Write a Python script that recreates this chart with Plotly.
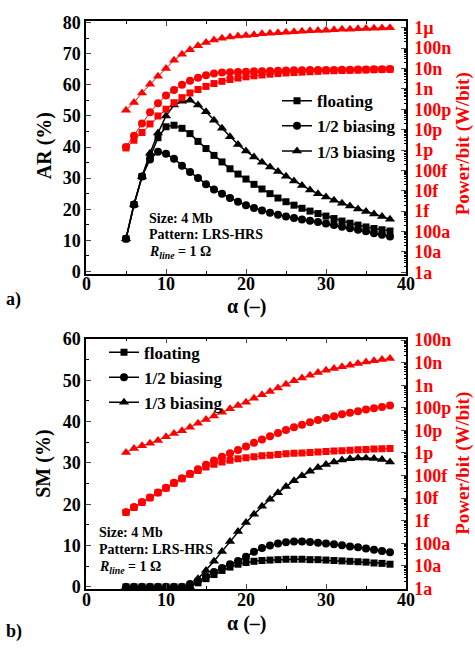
import plotly.graph_objects as go

alpha = list(range(5, 39))

# (a) AR (%) — left axis
ar_floating = [10.5, 21.5, 30.5, 37, 43, 46.5, 47, 46, 44.3, 41.8, 39.5, 37.3, 35.2, 33.0, 31.3, 29.7,
               28.0, 26.5, 25.0, 23.6, 22.4, 21.3, 20.3, 19.4, 18.6, 17.8, 17.0, 16.2, 15.5, 14.9,
               14.3, 13.8, 13.4, 13.0]
ar_half = [10.5, 21.5, 30.5, 36, 38.5, 37.8, 36.2, 34, 32, 30, 28, 26.3, 25, 23.6, 22.4, 21.3,
           20.4, 19.6, 18.9, 18.2, 17.7, 17.2, 16.7, 16.3, 15.9, 15.4, 14.9, 14.4, 13.9, 13.4,
           12.9, 12.3, 11.8, 11.2]
ar_third = [10.5, 21.5, 30.5, 38, 44.5, 50, 53.5, 54.7, 55, 53.5, 51.3, 48.6, 46, 43.3, 40.8, 38.7,
            36.8, 35.1, 33.6, 32.1, 30.6, 29.1, 27.6, 26.2, 25, 23.9, 22.9, 21.9, 21, 20.1,
            19.3, 18.5, 17.7, 16.8]

# (a) Power/bit, log10(W/bit) — right axis
pa_floating = [-11.9, -11.52, -11.14, -10.72, -10.33, -10.0, -9.68, -9.43, -9.2, -9.03, -8.88, -8.74,
               -8.63, -8.54, -8.47, -8.41, -8.36, -8.32, -8.28, -8.25, -8.22, -8.2, -8.18, -8.16,
               -8.14, -8.12, -8.11, -8.1, -8.09, -8.08, -8.07, -8.06, -8.05, -8.04]
pa_half = [-11.85, -11.3, -10.7, -10.15, -9.7, -9.33, -9.05, -8.8, -8.6, -8.45, -8.33, -8.25, -8.2,
           -8.18, -8.17, -8.16, -8.14, -8.13, -8.12, -8.11, -8.1, -8.09, -8.09, -8.08, -8.08,
           -8.07, -8.07, -8.06, -8.06, -8.05, -8.05, -8.04, -8.04, -8.03]
pa_third = [-10.05, -9.67, -9.2, -8.77, -8.38, -8.0, -7.6, -7.3, -7.08, -6.88, -6.72, -6.6, -6.52,
            -6.45, -6.41, -6.38, -6.34, -6.3, -6.27, -6.25, -6.22, -6.2, -6.17, -6.15, -6.13,
            -6.12, -6.1, -6.08, -6.07, -6.05, -6.04, -6.02, -6.01, -6.0]

# (b) SM (%) — left axis
sm_floating = [0, 0, 0, 0, 0, 0, 0, 0, 0.3, 1.0, 2.0, 3.0, 4.0, 4.8, 5.5, 5.9, 6.2, 6.4, 6.5, 6.6,
               6.7, 6.7, 6.7, 6.6, 6.6, 6.5, 6.4, 6.3, 6.2, 6.1, 6.0, 5.8, 5.7, 5.5]
sm_half = [0, 0, 0, 0, 0, 0, 0, 0, 0.7, 1.5, 2.5, 3.6, 4.6, 5.5, 6.3, 7.3, 8.5, 9.4, 10.0, 10.5,
           10.8, 11.0, 11.0, 10.9, 10.7, 10.5, 10.3, 10.1, 9.8, 9.6, 9.3, 9.0, 8.7, 8.4]
sm_third = [0, 0, 0, 0, 0, 0, 0, 0, 0, 2.0, 4.0, 6.2, 8.6, 11.0, 13.4, 15.6, 17.6, 19.5, 21.2, 22.8,
            24.3, 25.7, 26.9, 28.0, 28.9, 29.6, 30.2, 30.7, 31.0, 31.2, 31.2, 31.1, 30.8, 30.2]

# (b) Power/bit, log10(W/bit) — right axis
pb_floating = [-14.64, -14.42, -14.2, -13.99, -13.77, -13.56, -13.34, -13.14, -12.95, -12.78, -12.62,
               -12.5, -12.4, -12.32, -12.26, -12.21, -12.17, -12.13, -12.1, -12.07, -12.04, -12.02,
               -12.0, -11.98, -11.96, -11.94, -11.92, -11.9, -11.88, -11.86, -11.85, -11.83, -11.82, -11.8]
pb_half = [-14.62, -14.4, -14.18, -13.97, -13.75, -13.54, -13.32, -13.12, -12.92, -12.72, -12.52,
           -12.34, -12.17, -12.02, -11.87, -11.72, -11.55, -11.4, -11.26, -11.12, -10.98, -10.86,
           -10.75, -10.64, -10.54, -10.45, -10.37, -10.29, -10.22, -10.15, -10.08, -10.02, -9.96, -9.9]
pb_third = [-11.98, -11.8, -11.68, -11.57, -11.45, -11.28, -11.14, -11.02, -10.86, -10.68, -10.52,
            -10.36, -10.2, -10.04, -9.9, -9.75, -9.58, -9.42, -9.28, -9.12, -8.96, -8.8, -8.68,
            -8.56, -8.44, -8.34, -8.26, -8.18, -8.11, -8.04, -7.97, -7.92, -7.86, -7.82]

series_names = ["floating", "1/2 biasing", "1/3 biasing"]
symbols = ["square", "circle", "triangle-up"]
msize = [7, 8, 9]

x_ticks = [0, 10, 20, 30, 40]
power_labels_a = ["1a", "10a", "100a", "1f", "10f", "100f", "1p", "10p", "100p", "1n", "10n", "100n", "1µ"]
power_labels_b = ["1a", "10a", "100a", "1f", "10f", "100f", "1p", "10p", "100p", "1n", "10n", "100n"]

FONT = "Liberation Serif"
RED = "#ff0000"

fig = go.Figure()

def add_panel(xa, yl, yr, left_sets, right_sets, legend_name):
    for name, sym, ms, vals in zip(series_names, symbols, msize, left_sets):
        fig.add_trace(go.Scatter(
            x=alpha, y=vals, name=name, mode="lines+markers",
            line=dict(color="black", width=1.5),
            marker=dict(symbol=sym, size=ms, color="black"),
            xaxis=xa, yaxis=yl, legend=legend_name, showlegend=True))
    for name, sym, ms, vals in zip(series_names, symbols, msize, right_sets):
        fig.add_trace(go.Scatter(
            x=alpha, y=[10 ** v for v in vals], name=name, mode="lines+markers",
            line=dict(color=RED, width=1),
            marker=dict(symbol=sym, size=ms, color=RED),
            xaxis=xa, yaxis=yr, showlegend=False))

add_panel("x", "y", "y2", [ar_floating, ar_half, ar_third], [pa_floating, pa_half, pa_third], "legend")
add_panel("x2", "y3", "y4", [sm_floating, sm_half, sm_third], [pb_floating, pb_half, pb_third], "legend2")

tickfont = dict(family=FONT, size=18, color="black", weight="bold")
redtick = dict(family=FONT, size=18, color=RED, weight="bold")

def xaxis_cfg(anchor):
    return dict(range=[0, 40], tickvals=x_ticks, ticks="inside", ticklen=5,
                tickwidth=1.2, mirror="ticks", showline=True, linecolor="black", linewidth=1.5,
                showgrid=False, zeroline=False, showticklabels=False, anchor=anchor,
                minor=dict(tickvals=[5, 15, 25, 35], ticks="inside", ticklen=3, tickcolor="black"))

def yleft_cfg(rng, vals, dom, anchor):
    return dict(range=rng, tickvals=vals, ticks="inside", ticklen=5, tickwidth=1.2,
                showline=True, linecolor="black", linewidth=1.5, showgrid=False, zeroline=False,
                tickfont=tickfont, domain=dom, anchor=anchor,
                minor=dict(tickvals=[v + (vals[1] - vals[0]) / 2 for v in vals[:-1]],
                           ticks="inside", ticklen=3, tickcolor="black"))

def yright_cfg(rng, labels, overlay, anchor):
    exps = list(range(-18, -18 + len(labels)))
    minors = []
    for e in exps[:-1]:
        for k in range(2, 10):
            minors.append(k * 10 ** e)
    return dict(type="log", range=rng, tickvals=[10 ** e for e in exps], ticktext=labels,
                ticks="inside", ticklen=5, tickwidth=1.2, showline=True, linecolor="black",
                linewidth=1.5, showgrid=False, zeroline=False, tickfont=redtick,
                overlaying=overlay, side="right", anchor=anchor, ticklabelstandoff=3,
                minor=dict(tickvals=minors, ticks="inside", ticklen=2.5, tickcolor="black"))

top_dom = [0.5547, 1.0]
bot_dom = [0.0, 0.441]

def px2x(px):
    return (px - 86) / 320

def py2y(py):
    return (589 - py) / 576

ann = []
def text(x, y, s, size=14, color="black", angle=0, xanchor="center"):
    ann.append(dict(xref="paper", yref="paper", x=px2x(x), y=py2y(y), text=s, showarrow=False,
                    textangle=angle, xanchor=xanchor, yanchor="middle",
                    font=dict(family=FONT, size=size, color=color, weight="bold")))

# x tick labels, placed at the tick values of each x axis
for xref, ypix in [("x", 280), ("x2", 600)]:
    for v in x_ticks:
        ann.append(dict(xref=xref, yref="paper", x=v, y=py2y(ypix), text=str(v), showarrow=False,
                        xanchor="center", yanchor="middle", font=tickfont))

text(44, 140, "AR (%)", size=20, angle=-90)
text(44, 462, "SM (%)", size=20, angle=-90)
text(463, 138, "Power/bit (W/bit)", size=19, color=RED, angle=-90)
text(463, 462, "Power/bit (W/bit)", size=19, color=RED, angle=-90)
text(246, 303, "α (–)", size=20)
text(246, 624, "α (–)", size=20)
text(4, 295, "a)", size=18, xanchor="left")
text(4, 632, "b)", size=18, xanchor="left")
for x0, y0 in [(147, 213), (97, 532)]:
    text(x0, y0, "Size: 4 Mb", size=14, xanchor="left")
    text(x0, y0 + 17, "Pattern: LRS-HRS", size=14, xanchor="left")
    text(x0, y0 + 35, "<i>R</i><sub><i>line</i></sub> = 1 Ω", size=14, xanchor="left")

legfont = dict(family=FONT, size=17, color="black", weight="bold")

fig.update_layout(
    width=475, height=648, margin=dict(l=86, r=69, t=13, b=59),
    paper_bgcolor="white", plot_bgcolor="white",
    xaxis=xaxis_cfg("y"),
    xaxis2=xaxis_cfg("y3"),
    yaxis=yleft_cfg([-0.8, 80.5], [0, 10, 20, 30, 40, 50, 60, 70, 80], top_dom, "x"),
    yaxis2=yright_cfg([-18.08, -5.67], power_labels_a, "y", "x"),
    yaxis3=yleft_cfg([-0.5, 60.1], [0, 10, 20, 30, 40, 50, 60], bot_dom, "x2"),
    yaxis4=yright_cfg([-18.03, -6.93], power_labels_b, "y3", "x2"),
    legend=dict(x=px2x(277), y=py2y(76), xanchor="left", yanchor="top", bgcolor="rgba(0,0,0,0)",
                font=legfont, tracegroupgap=0),
    legend2=dict(x=px2x(104), y=py2y(331), xanchor="left", yanchor="top", bgcolor="rgba(0,0,0,0)",
                 font=legfont, tracegroupgap=0),
    annotations=ann,
    showlegend=True,
)

fig.write_html("out.html")
